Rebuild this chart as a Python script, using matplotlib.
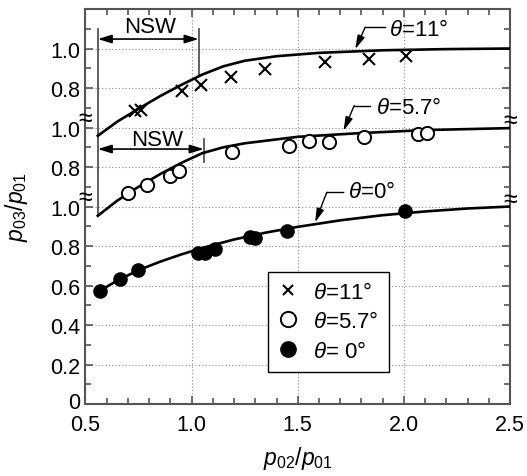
import matplotlib
matplotlib.use('Agg')
import matplotlib.pyplot as plt
from matplotlib.ticker import MultipleLocator, FixedLocator
from matplotlib.lines import Line2D
from matplotlib.transforms import ScaledTranslation

plt.rcParams['font.family'] = ['Liberation Sans', 'DejaVu Sans']
plt.rcParams['mathtext.fontset'] = 'custom'
plt.rcParams['mathtext.rm'] = 'Liberation Sans'
plt.rcParams['mathtext.it'] = 'Liberation Sans:italic'
plt.rcParams['mathtext.bf'] = 'Liberation Sans:bold'

# ---------------- data ----------------
theta11_x = [0.735, 0.762, 0.955, 1.044, 1.186, 1.347, 1.629, 1.838, 2.011]
theta11_y = [0.682, 0.689, 0.783, 0.817, 0.857, 0.896, 0.930, 0.947, 0.964]

theta57_x = [0.701, 0.790, 0.897, 0.942, 1.190, 1.461, 1.551, 1.648, 1.814, 2.066, 2.108]
theta57_y = [0.667, 0.709, 0.756, 0.778, 0.874, 0.908, 0.933, 0.925, 0.953, 0.967, 0.970]

theta0_x = [0.567, 0.661, 0.748, 1.030, 1.065, 1.112, 1.273, 1.300, 1.449, 2.006]
theta0_y = [0.571, 0.633, 0.678, 0.765, 0.765, 0.785, 0.847, 0.839, 0.874, 0.977]

curve11_x = [0.558, 0.65, 0.75, 0.85, 0.95, 1.05, 1.15, 1.25, 1.4, 1.6, 1.9, 2.2, 2.5]
curve11_y = [0.558, 0.630, 0.695, 0.758, 0.815, 0.868, 0.910, 0.938, 0.961, 0.978, 0.991, 0.997, 1.0]

curve57_x = [0.558, 0.65, 0.75, 0.85, 0.95, 1.05, 1.15, 1.25, 1.5, 1.8, 2.1, 2.5]
curve57_y = [0.553, 0.630, 0.700, 0.763, 0.820, 0.870, 0.900, 0.920, 0.953, 0.972, 0.987, 0.997]

curve0_x = [0.565, 0.65, 0.75, 0.85, 0.95, 1.05, 1.2, 1.35, 1.5, 1.7, 1.9, 2.1, 2.3, 2.5]
curve0_y = [0.572, 0.625, 0.678, 0.720, 0.757, 0.790, 0.833, 0.868, 0.897, 0.930, 0.956, 0.975, 0.990, 1.0]

ytick_pos = [0, 0.2, 0.4, 0.6, 0.8, 1.0, 1.2, 1.4, 1.6, 1.8]
ytick_labels = ['0', '0.2', '0.4', '0.6', '0.8', '1.0', '0.8', '1.0', '0.8', '1.0']
xtick_pos = [0.5, 1.0, 1.5, 2.0, 2.5]
xtick_labels = ['0.5', '1.0', '1.5', '2.0', '2.5']

legend_labels = [r'$\theta$=11°', r'$\theta$=5.7°', r'$\theta$= 0°']

# vertical offsets of the stacked panels
OFF_MID = 0.4
OFF_TOP = 0.8

# ---------------- figure ----------------
fig = plt.figure(figsize=(5.27, 4.77), dpi=100)
ax = fig.add_axes([0.1622, 0.1509, 0.9677 - 0.1622, 0.979 - 0.1509])
ax.set_xlim(0.5, 2.5)
ax.set_ylim(0, 2.0)

spine_c = '#555555'
for s in ax.spines.values():
    s.set_color(spine_c)
    s.set_linewidth(1.5)

ax.xaxis.set_major_locator(FixedLocator(xtick_pos))
ax.set_xticklabels(xtick_labels)
ax.xaxis.set_minor_locator(MultipleLocator(0.1))
ax.yaxis.set_major_locator(FixedLocator(ytick_pos))
ax.set_yticklabels(ytick_labels)
ax.yaxis.set_minor_locator(MultipleLocator(0.1))
ax.tick_params(which='both', direction='in', top=True, right=True,
               color=spine_c, width=1.2, labelsize=15.5)
ax.tick_params(which='major', length=6)
ax.tick_params(which='minor', length=4.5)
ax.tick_params(axis='y', pad=4)
ax.tick_params(axis='x', pad=7)

# nudge the bottom "0" label slightly up so it does not collide with "0.5"
zero_lbl = ax.get_yticklabels()[0]
zero_lbl.set_transform(zero_lbl.get_transform() +
                       ScaledTranslation(0, 4 / 100, fig.dpi_scale_trans))

ax.grid(which='major', linestyle=(0, (1, 2)), color='#8a8a8a', linewidth=0.8)
ax.set_axisbelow(True)

ax.set_xlabel(r'$p_{02}/p_{01}$', fontsize=16.5, labelpad=7)
ax.set_ylabel(r'$p_{03}/p_{01}$', fontsize=16.5, labelpad=14)

# curves
ax.plot(curve11_x, [v + OFF_TOP for v in curve11_y], color='black', lw=1.9, zorder=3)
ax.plot(curve57_x, [v + OFF_MID for v in curve57_y], color='black', lw=1.9, zorder=3)
ax.plot(curve0_x, curve0_y, color='black', lw=1.9, zorder=3)

# markers
ax.plot(theta11_x, [v + OFF_TOP for v in theta11_y], linestyle='none', marker='x',
        ms=9, mew=1.5, color='black', zorder=4)
ax.plot(theta57_x, [v + OFF_MID for v in theta57_y], linestyle='none', marker='o',
        ms=9.5, mew=1.4, mfc='white', mec='black', zorder=4)
ax.plot(theta0_x, theta0_y, linestyle='none', marker='o',
        ms=9.5, mfc='black', mec='black', zorder=4)

# NSW annotations
nsw_c = '#444444'
# top
ax.plot([0.558, 0.558], [0.558 + OFF_TOP, 1.90], color=nsw_c, lw=1.2, zorder=2)
ax.plot([1.033, 1.033], [0.862 + OFF_TOP, 1.899], color=nsw_c, lw=1.2, zorder=2)
ax.annotate('', xy=(0.558, 1.848), xytext=(1.033, 1.848),
            arrowprops=dict(arrowstyle='<|-|>,head_length=0.55,head_width=0.17',
                            mutation_scale=15, lw=1.2, color='black',
                            shrinkA=0, shrinkB=0), zorder=5)
ax.text(0.806, 1.913, 'NSW', fontsize=16, ha='center', va='center')
# middle
ax.plot([0.558, 0.558], [0.553 + OFF_MID, 0.558 + OFF_TOP], color=nsw_c, lw=1.2, zorder=2)
ax.plot([1.057, 1.057], [1.225, 1.342], color=nsw_c, lw=1.2, zorder=2)
ax.annotate('', xy=(0.558, 1.291), xytext=(1.057, 1.291),
            arrowprops=dict(arrowstyle='<|-|>,head_length=0.55,head_width=0.17',
                            mutation_scale=15, lw=1.2, color='black',
                            shrinkA=0, shrinkB=0), zorder=5)
ax.text(0.837, 1.338, 'NSW', fontsize=16, ha='center', va='center')

# theta leaders
def leader(tip, bend, hend, text, tx, ty):
    ax.plot([bend[0], hend], [bend[1], bend[1]], color='black', lw=1.0, zorder=5)
    ax.annotate('', xy=tip, xytext=bend,
                arrowprops=dict(arrowstyle='-|>,head_length=0.55,head_width=0.15',
                                mutation_scale=15, lw=1.0, color='black',
                                shrinkA=0, shrinkB=0), zorder=5)
    ax.text(tx, ty, text, fontsize=16, ha='left', va='center', zorder=5)

leader((1.771, 1.797), (1.818, 1.908), 1.912, r'$\theta$=11°', 1.93, 1.895)
leader((1.716, 1.384), (1.766, 1.511), 1.841, r'$\theta$=5.7°', 1.87, 1.50)
leader((1.582, 0.920), (1.637, 1.072), 1.715, r'$\theta$=0°', 1.735, 1.075)

# axis break marks
ytr = ax.get_yaxis_transform()
for yb in (1.45, 1.05):
    ax.text(0.0, yb, '≈', transform=ytr, fontsize=18, ha='center', va='center',
            clip_on=False, zorder=6)
    ax.text(1.0, yb - 0.01, '≈', transform=ytr, fontsize=18, ha='center', va='center',
            clip_on=False, zorder=6)

# legend
handles = [
    Line2D([], [], linestyle='none', marker='x', ms=7.5, mew=1.5, color='black'),
    Line2D([], [], linestyle='none', marker='o', ms=11, mew=1.4, mfc='white', mec='black'),
    Line2D([], [], linestyle='none', marker='o', ms=11, mfc='black', mec='black'),
]
leg = ax.legend(handles, legend_labels, loc='lower left', bbox_to_anchor=(0.429, 0.0818),
                borderaxespad=0, fontsize=16, frameon=True, fancybox=False,
                handlelength=0.9, handletextpad=0.7, borderpad=0.45,
                labelspacing=0.38)
leg.get_frame().set_edgecolor('black')
leg.get_frame().set_linewidth(1.0)
leg.get_frame().set_alpha(1)
leg.set_zorder(7)

fig.savefig('out.png', dpi=100)
